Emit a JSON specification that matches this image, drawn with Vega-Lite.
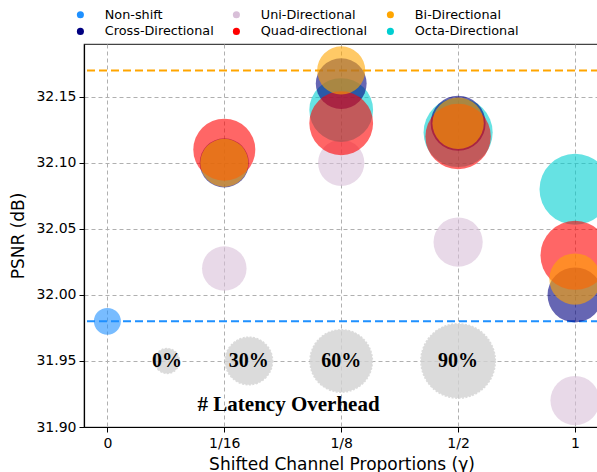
{
  "$schema": "https://vega.github.io/schema/vega-lite/v6.json",
  "width": 515,
  "height": 383,
  "autosize": {"type": "none"},
  "padding": {"left": 84, "top": 44, "right": 0, "bottom": 45},
  "background": "white",
  "config": {
    "view": {"stroke": "#444444", "strokeWidth": 1.2},
    "font": "DejaVu Sans",
    "axis": {
      "grid": true,
      "gridColor": "#b0b0b0",
      "gridDash": [4, 3],
      "gridWidth": 1,
      "domainColor": "#000000",
      "domainWidth": 1.2,
      "tickColor": "#000000",
      "tickSize": 5,
      "labelColor": "#000000",
      "labelFont": "DejaVu Sans",
      "labelFontSize": 14,
      "titleFont": "DejaVu Sans",
      "titleFontSize": 17,
      "titleFontWeight": "normal",
      "titleColor": "#000000"
    }
  },
  "datasets": {
    "points": [
      {"gamma": 0, "method": "Non-shift", "psnr": 31.98, "overhead": 2},
      {"gamma": 1, "method": "Uni-Directional", "psnr": 32.02, "overhead": 25},
      {"gamma": 2, "method": "Uni-Directional", "psnr": 32.10, "overhead": 28},
      {"gamma": 3, "method": "Uni-Directional", "psnr": 32.04, "overhead": 33},
      {"gamma": 4, "method": "Uni-Directional", "psnr": 31.92, "overhead": 33},
      {"gamma": 2, "method": "Octa-Directional", "psnr": 32.14, "overhead": 63},
      {"gamma": 3, "method": "Octa-Directional", "psnr": 32.123, "overhead": 76},
      {"gamma": 4, "method": "Octa-Directional", "psnr": 32.08, "overhead": 81},
      {"gamma": 1, "method": "Cross-Directional", "psnr": 32.10, "overhead": 33},
      {"gamma": 2, "method": "Cross-Directional", "psnr": 32.16, "overhead": 36},
      {"gamma": 3, "method": "Cross-Directional", "psnr": 32.13, "overhead": 44},
      {"gamma": 4, "method": "Cross-Directional", "psnr": 32.00, "overhead": 44},
      {"gamma": 1, "method": "Quad-directional", "psnr": 32.11, "overhead": 59},
      {"gamma": 2, "method": "Quad-directional", "psnr": 32.13, "overhead": 63},
      {"gamma": 3, "method": "Quad-directional", "psnr": 32.12, "overhead": 67},
      {"gamma": 4, "method": "Quad-directional", "psnr": 32.03, "overhead": 76},
      {"gamma": 1, "method": "Bi-Directional", "psnr": 32.10, "overhead": 31},
      {"gamma": 2, "method": "Bi-Directional", "psnr": 32.17, "overhead": 31},
      {"gamma": 3, "method": "Bi-Directional", "psnr": 32.13, "overhead": 37},
      {"gamma": 4, "method": "Bi-Directional", "psnr": 32.012, "overhead": 37}
    ],
    "baselines": [
      {"method": "Non-shift", "psnr": 31.98},
      {"method": "Bi-Directional", "psnr": 32.17}
    ],
    "latency": [
      {"pos": 0.51, "psnr": 31.95, "overhead": 0, "label": "0%"},
      {"pos": 1.21, "psnr": 31.95, "overhead": 30, "label": "30%"},
      {"pos": 2.0, "psnr": 31.95, "overhead": 60, "label": "60%"},
      {"pos": 3.0, "psnr": 31.95, "overhead": 90, "label": "90%"}
    ],
    "caption": [
      {"pos": 1.55, "psnr": 31.917, "label": "# Latency Overhead"}
    ]
  },
  "layer": [
    {
      "data": {"name": "latency"},
      "mark": {"type": "circle", "fill": "#d3d3d3", "opacity": 0.8, "stroke": "#d3d3d3", "strokeWidth": 1.5, "strokeDash": [2, 1.5]},
      "encoding": {
        "x": {"field": "pos", "type": "quantitative", "scale": {"domain": [-0.2, 4.205], "nice": false, "zero": false},
          "axis": {"values": [0, 1, 2, 3, 4], "labelExpr": "['0','1/16','1/8','1/2','1'][datum.value]", "title": "Shifted Channel Proportions (γ)", "titlePadding": 6, "labelPadding": 4}},
        "y": {"field": "psnr", "type": "quantitative", "scale": {"domain": [31.9, 32.19], "nice": false, "zero": false},
          "axis": {"values": [31.9, 31.95, 32.0, 32.05, 32.1, 32.15], "format": ".2f", "title": "PSNR (dB)", "titlePadding": 8, "labelPadding": 3}},
        "size": {"field": "overhead", "type": "quantitative", "scale": {"domain": [0, 90], "range": [616, 5542], "zero": false}, "legend": null}
      }
    },
    {
      "data": {"name": "baselines"},
      "mark": {"type": "rule", "strokeWidth": 2, "strokeDash": [8, 4]},
      "encoding": {
        "y": {"field": "psnr", "type": "quantitative"},
        "color": {"field": "method", "type": "nominal"}
      }
    },
    {
      "data": {"name": "points"},
      "mark": {"type": "circle", "opacity": 0.6},
      "encoding": {
        "x": {"field": "gamma", "type": "quantitative"},
        "y": {"field": "psnr", "type": "quantitative"},
        "size": {"field": "overhead", "type": "quantitative", "legend": null},
        "color": {"field": "method", "type": "nominal",
          "scale": {"domain": ["Non-shift", "Uni-Directional", "Bi-Directional", "Cross-Directional", "Quad-directional", "Octa-Directional"],
                    "range": ["#1E90FF", "#D8BFD8", "#FFA500", "#000080", "#FF0000", "#00CED1"]},
          "legend": {"title": null, "orient": "none", "legendX": -10, "legendY": -36, "columns": 3, "direction": "horizontal",
            "symbolType": "circle", "symbolSize": 50, "symbolOpacity": 1, "symbolStrokeWidth": 0,
            "labelFont": "DejaVu Sans", "labelFontSize": 12.8, "labelColor": "#000000", "labelOffset": 18,
            "columnPadding": 16, "rowPadding": 3}}
      }
    },
    {
      "data": {"name": "latency"},
      "mark": {"type": "text", "font": "Liberation Serif", "fontWeight": "bold", "fontSize": 20, "color": "#000000", "baseline": "middle", "align": "center"},
      "encoding": {
        "x": {"field": "pos", "type": "quantitative"},
        "y": {"field": "psnr", "type": "quantitative"},
        "text": {"field": "label"}
      }
    },
    {
      "data": {"name": "caption"},
      "mark": {"type": "text", "font": "Liberation Serif", "fontWeight": "bold", "fontSize": 21, "color": "#000000", "baseline": "middle", "align": "center"},
      "encoding": {
        "x": {"field": "pos", "type": "quantitative"},
        "y": {"field": "psnr", "type": "quantitative"},
        "text": {"field": "label"}
      }
    }
  ]
}
